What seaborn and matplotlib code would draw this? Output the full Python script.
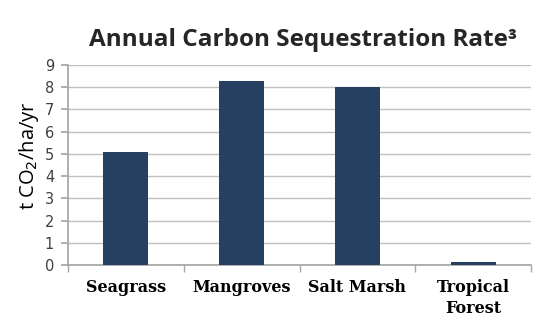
import matplotlib
matplotlib.use("Agg")
import matplotlib.pyplot as plt
import seaborn as sns
import pandas as pd

categories = ["Seagrass", "Mangroves", "Salt Marsh", "Tropical\nForest"]
rates = [5.1, 8.3, 8.0, 0.15]
y_ticks = [0, 1, 2, 3, 4, 5, 6, 7, 8, 9]

df = pd.DataFrame({"habitat": categories, "rate": rates})

sns.set_theme(style="white")
fig = plt.figure(figsize=(5.49, 3.30), dpi=100)
ax = fig.add_axes([68 / 549, 1 - 265 / 330, 463 / 549, 200 / 330])

sns.barplot(data=df, x="habitat", y="rate", color="#254061", width=0.39,
            saturation=1, ax=ax, zorder=3, linewidth=0)

ax.set_ylim(0, 9)
ax.set_xlim(-0.5, 3.5)
ax.set_yticks(y_ticks)
ax.yaxis.grid(True, color="#c0c0c0", linewidth=1, zorder=0)
ax.set_axisbelow(True)

for side in ["top", "right"]:
    ax.spines[side].set_visible(False)
ax.spines["left"].set_color("#a6a6a6")
ax.spines["bottom"].set_color("#a6a6a6")

# category boundary ticks on the x axis
ax.set_xticks([-0.5, 0.5, 1.5, 2.5, 3.5], minor=True)
ax.tick_params(axis="x", which="minor", length=5, color="#a6a6a6", bottom=True)
ax.tick_params(axis="x", which="major", length=0, pad=10)
ax.tick_params(axis="y", length=5, color="#a6a6a6", left=True, labelcolor="#404040",
               labelsize=10.5, pad=5)

ax.set_xticks(range(len(categories)))
ax.set_xticklabels(categories, family="DejaVu Serif", fontweight="bold",
                   fontsize=11.5, color="black", linespacing=1.3)

ax.set_xlabel("")
ax.set_ylabel("t CO$_2$/ha/yr", fontsize=14.5, color="black", family="Open Sans")
ax.yaxis.set_label_coords(-27 / 463, 0.545)

fig.text(303 / 549, 1 - 40 / 330, "Annual Carbon Sequestration Rate³",
         ha="center", va="center", fontsize=17.5, fontweight="bold",
         family="Open Sans")

fig.savefig("out.png", dpi=100)
